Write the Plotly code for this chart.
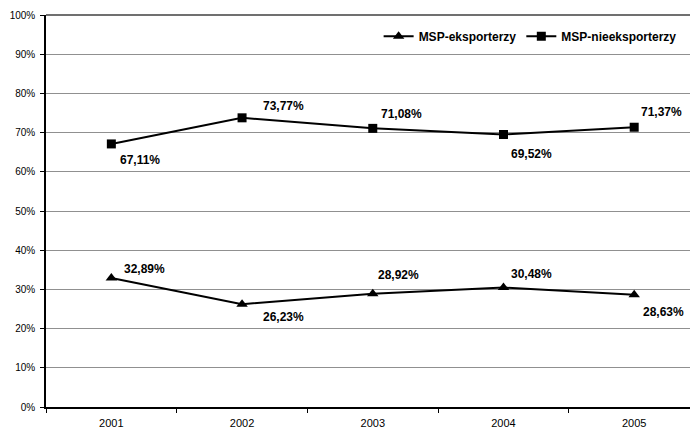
import plotly.graph_objects as go

years = ["2001", "2002", "2003", "2004", "2005"]
eksporterzy = [32.89, 26.23, 28.92, 30.48, 28.63]
nieeksporterzy = [67.11, 73.77, 71.08, 69.52, 71.37]
y_ticks = list(range(0, 101, 10))
y_tick_labels = [f"{t}%" for t in y_ticks]

# label offsets (pixels) for the data labels: (dx, dy downward)
off_eks = [(11, -9), (19, 13), (3, -19), (6, -14), (7, 17)]
off_nie = [(7, 16), (19, -12), (6, -14), (6, 20), (5, -15)]

FONT = "Liberation Sans, Arial, sans-serif"

fig = go.Figure()
fig.add_trace(go.Scatter(
    x=years, y=eksporterzy, name="MSP-eksporterzy", mode="lines+markers",
    line=dict(color="black", width=2),
    marker=dict(symbol="triangle-up", size=10, color="black"),
))
fig.add_trace(go.Scatter(
    x=years, y=nieeksporterzy, name="MSP-nieeksporterzy", mode="lines+markers",
    line=dict(color="black", width=2),
    marker=dict(symbol="square", size=9, color="black"),
))

annotations = []
for vals, offs in ((eksporterzy, off_eks), (nieeksporterzy, off_nie)):
    for i, (v, (dx, dy)) in enumerate(zip(vals, offs)):
        annotations.append(dict(
            x=i, y=v, xref="x", yref="y",
            text=f"<b>{v:.2f}%</b>".replace(".", ","),
            showarrow=False, xanchor="left", yanchor="middle",
            xshift=dx, yshift=-dy,
            font=dict(family=FONT, size=12, color="black"),
        ))

fig.update_layout(
    width=690, height=432,
    margin=dict(l=46, r=0, t=15, b=25),
    paper_bgcolor="white", plot_bgcolor="white",
    font=dict(family=FONT, color="black"),
    showlegend=True,
    legend=dict(
        orientation="h", x=0.987, xanchor="right", y=0.946, yanchor="middle",
        bgcolor="rgba(255,255,255,0)", borderwidth=0,
        font=dict(family=FONT, size=12, color="black", weight="bold"),
        itemwidth=30, tracegroupgap=0,
    ),
    annotations=annotations,
    shapes=[dict(
        type="line", xref="paper", yref="paper", x0=0, x1=1, y0=1, y1=1,
        line=dict(color="#707070", width=2), layer="below",
    )],
    xaxis=dict(
        type="category", range=[-0.5, 4.427],
        showgrid=False, showline=True, linecolor="black", linewidth=1.5,
        ticks="outside", tickson="boundaries", ticklen=4, tickcolor="black",
        tickwidth=1, ticklabelstandoff=5,
        tickfont=dict(family=FONT, size=11, color="black"),
        zeroline=False, fixedrange=True,
    ),
    yaxis=dict(
        range=[0, 100], tickvals=y_ticks, ticktext=y_tick_labels,
        showgrid=True, gridcolor="#909090", gridwidth=1,
        showline=True, linecolor="black", linewidth=1.5,
        ticks="outside", ticklen=4, tickcolor="black", tickwidth=1,
        ticklabelstandoff=3,
        tickfont=dict(family=FONT, size=10, color="black"),
        zeroline=False, fixedrange=True,
    ),
)

fig.write_html(
    "out.html",
    config={"displayModeBar": False},
    post_script="document.body.style.margin='0';document.body.style.overflow='hidden';",
)
